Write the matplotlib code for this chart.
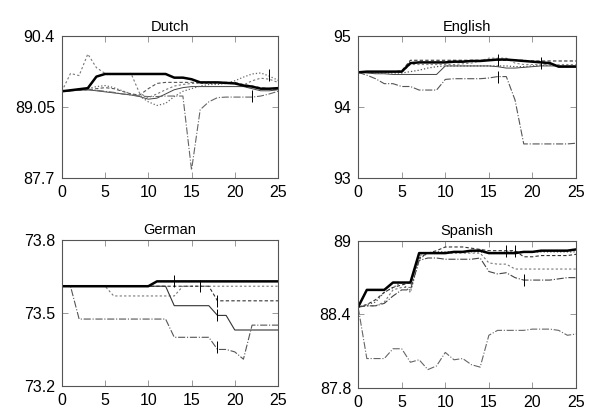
import numpy as np
import matplotlib
matplotlib.use('Agg')
import matplotlib.pyplot as plt

plt.rcParams['font.family'] = ['Liberation Sans', 'DejaVu Sans']

steps = np.arange(26)

# Dutch
du_thick = [89.35,89.37,89.39,89.41,89.63,89.68,89.68,89.68,89.68,89.68,89.68,89.68,89.68,
            89.61,89.61,89.58,89.52,89.52,89.52,89.51,89.50,89.46,89.44,89.40,89.40,89.41]
du_peak = [89.35,89.69,89.65,90.06,89.80,89.69,89.67,89.68,89.69,89.31,89.23,89.30,89.38,
           89.45,89.48,89.50,89.50,89.50,89.50,89.50,89.50,89.47,89.55,89.60,89.58,89.52]
du_dip = [89.35,89.36,89.38,89.38,89.37,89.35,89.33,89.30,89.28,89.26,89.25,89.25,89.26,
          89.26,89.26,87.85,89.00,89.15,89.23,89.24,89.24,89.24,89.24,89.26,89.30,89.35]
du_dot = [89.35,89.36,89.38,89.40,89.44,89.46,89.42,89.36,89.30,89.26,89.15,89.08,89.12,
          89.25,89.35,89.40,89.45,89.48,89.48,89.50,89.55,89.62,89.68,89.70,89.64,89.56]
du_dash = [89.35,89.36,89.37,89.38,89.40,89.42,89.40,89.35,89.30,89.28,89.40,89.50,89.52,
           89.52,89.52,89.52,89.52,89.52,89.52,89.52,89.52,89.48,89.45,89.42,89.40,89.38]
du_thin = [89.35,89.36,89.37,89.38,89.36,89.34,89.32,89.30,89.28,89.25,89.20,89.22,89.30,
           89.38,89.42,89.44,89.44,89.44,89.44,89.44,89.44,89.44,89.40,89.36,89.36,89.38]
du_mx = [22, 24]
du_my = [89.27, 89.66]

# English
en_thick = [94.49,94.50,94.50,94.50,94.50,94.50,94.62,94.63,94.63,94.63,94.63,94.64,94.64,
            94.65,94.65,94.66,94.67,94.67,94.66,94.65,94.64,94.63,94.62,94.57,94.57,94.57]
en_top = [94.49,94.50,94.50,94.50,94.50,94.51,94.66,94.66,94.66,94.66,94.66,94.66,94.66,
          94.66,94.66,94.66,94.66,94.66,94.66,94.66,94.65,94.65,94.65,94.65,94.65,94.65]
en_low = [94.49,94.45,94.40,94.33,94.33,94.29,94.29,94.24,94.24,94.24,94.39,94.40,94.40,
          94.40,94.40,94.41,94.43,94.43,94.10,93.48,93.48,93.48,93.48,93.48,93.48,93.49]
en_dot = [94.49,94.49,94.48,94.48,94.48,94.48,94.50,94.52,94.55,94.57,94.58,94.58,94.58,
          94.58,94.58,94.58,94.58,94.58,94.57,94.57,94.58,94.59,94.59,94.58,94.58,94.58]
en_thin = [94.49,94.48,94.47,94.47,94.46,94.46,94.46,94.46,94.46,94.46,94.58,94.58,94.58,
           94.58,94.58,94.58,94.57,94.55,94.55,94.56,94.57,94.58,94.58,94.58,94.58,94.58]
en_gray = [94.49,94.49,94.49,94.49,94.49,94.49,94.60,94.60,94.60,94.60,94.60,94.60,94.61,
           94.62,94.65,94.69,94.69,94.69,94.62,94.60,94.60,94.60,94.60,94.60,94.60,94.60]
en_mx = [16, 16, 21]
en_my = [94.67, 94.43, 94.62]

# German
de_thick = [73.61]*11 + [73.63]*15
de_thin = [73.61]*13 + [73.53]*5 + [73.49, 73.49] + [73.43]*6
de_dash_a = [73.61]*18 + [73.55]*8
de_dash_b = [73.61]*6 + [73.57]*8 + [73.61]*12
de_dashdot = [73.61, 73.61] + [73.475]*11 + [73.40]*5 + [73.35, 73.35, 73.34, 73.31] + [73.45]*4
de_mx = [13, 16, 18, 18, 18]
de_my = [73.63, 73.61, 73.55, 73.49, 73.36]

# Spanish
es_thick = [88.46,88.60,88.60,88.60,88.66,88.66,88.66,88.90,88.90,88.90,88.90,88.91,88.91,
            88.92,88.92,88.90,88.90,88.90,88.90,88.91,88.91,88.92,88.92,88.92,88.92,88.93]
es_top = [88.46,88.48,88.52,88.58,88.62,88.64,88.66,88.86,88.90,88.92,88.95,88.95,88.95,
          88.94,88.93,88.92,88.92,88.92,88.92,88.87,88.87,88.88,88.88,88.88,88.88,88.89]
es_mid = [88.46,88.47,88.47,88.50,88.60,88.62,88.62,88.88,88.90,88.90,88.90,88.90,88.90,
          88.90,88.90,88.82,88.81,88.81,88.77,88.77,88.77,88.77,88.77,88.77,88.77,88.77]
es_dashdot = [88.46,88.47,88.47,88.49,88.55,88.60,88.60,88.84,88.86,88.86,88.85,88.85,88.85,
              88.85,88.86,88.75,88.73,88.74,88.70,88.68,88.68,88.68,88.68,88.69,88.70,88.70]
es_dot = [88.46,88.48,88.50,88.58,88.62,88.66,88.58,88.85,88.90,88.91,88.91,88.91,88.91,
          88.91,88.91,88.90,88.90,88.91,88.91,88.91,88.91,88.91,88.91,88.91,88.91,88.91]
es_low = [88.46,88.04,88.04,88.04,88.12,88.12,88.01,88.03,87.95,87.98,88.09,88.03,88.04,
          87.99,87.97,88.23,88.27,88.27,88.27,88.27,88.28,88.28,88.28,88.27,88.23,88.24]
es_mx = [17, 18, 19]
es_my = [88.92, 88.92, 88.68]

fig = plt.figure(figsize=(5.89, 4.11), dpi=100)

def setup(ax, title, yticks, ylabels):
    ax.set_xlim(0, 25)
    ax.set_ylim(yticks[0], yticks[-1])
    ax.set_xticks([0, 5, 10, 15, 20, 25])
    ax.set_yticks(yticks)
    ax.set_yticklabels(ylabels)
    ax.tick_params(direction='in', length=4, width=0.6, color='#888888',
                   top=True, right=True, labelsize=11.5, pad=5)
    for s in ax.spines.values():
        s.set_color('#555555')
        s.set_linewidth(0.8)
    ax.set_title(title, fontsize=10.5, pad=4)

def marks(ax, mx, my):
    ax.plot(mx, my, '|', color='black', ms=9, mew=0.7, ls='none')

# Dutch
ax = fig.add_axes([0.105, 0.567, 0.367, 0.345])
ax.plot(steps, du_thin, '-', color='#444444', lw=0.7)
ax.plot(steps, du_dash, '--', color='#555555', lw=0.8, dashes=(3, 2))
ax.plot(steps, du_dot, ':', color='#666666', lw=0.9)
ax.plot(steps, du_dip, '-.', color='#666666', lw=0.8)
ax.plot(steps, du_peak, '--', color='#777777', lw=0.8, dashes=(2, 2))
ax.plot(steps, du_thick, '-', color='black', lw=1.8)
marks(ax, du_mx, du_my)
setup(ax, 'Dutch', [87.7, 89.05, 90.4], ['87.7', '89.05', '90.4'])

# English
ax = fig.add_axes([0.608, 0.567, 0.370, 0.345])
ax.plot(steps, en_thin, '-', color='#444444', lw=0.7)
ax.plot(steps, en_dot, ':', color='#555555', lw=0.9)
ax.plot(steps, en_gray, '--', color='#888888', lw=0.8, dashes=(2, 2))
ax.plot(steps, en_top, '--', color='#333333', lw=0.8, dashes=(3, 2))
ax.plot(steps, en_low, '-.', color='#555555', lw=0.8)
ax.plot(steps, en_thick, '-', color='black', lw=1.8)
marks(ax, en_mx, en_my)
setup(ax, 'English', [93, 94, 95], ['93', '94', '95'])

# German
ax = fig.add_axes([0.105, 0.061, 0.367, 0.355])
ax.plot(steps, de_dash_b, '--', color='#777777', lw=0.8, dashes=(2, 2))
ax.plot(steps, de_dash_a, '--', color='#333333', lw=0.8, dashes=(3, 2))
ax.plot(steps, de_thin, '-', color='#333333', lw=0.8)
ax.plot(steps, de_dashdot, '-.', color='#555555', lw=0.8)
ax.plot(steps, de_thick, '-', color='black', lw=1.8)
marks(ax, de_mx, de_my)
setup(ax, 'German', [73.2, 73.5, 73.8], ['73.2', '73.5', '73.8'])

# Spanish
ax = fig.add_axes([0.608, 0.056, 0.370, 0.358])
ax.plot(steps, es_dot, ':', color='#555555', lw=0.9)
ax.plot(steps, es_top, '--', color='#333333', lw=0.8, dashes=(3, 2))
ax.plot(steps, es_mid, '--', color='#777777', lw=0.8, dashes=(2, 2))
ax.plot(steps, es_dashdot, '-.', color='#444444', lw=0.8)
ax.plot(steps, es_low, '-.', color='#666666', lw=0.8)
ax.plot(steps, es_thick, '-', color='black', lw=1.8)
marks(ax, es_mx, es_my)
setup(ax, 'Spanish', [87.8, 88.4, 89], ['87.8', '88.4', '89'])

fig.savefig('out.png', dpi=100)
